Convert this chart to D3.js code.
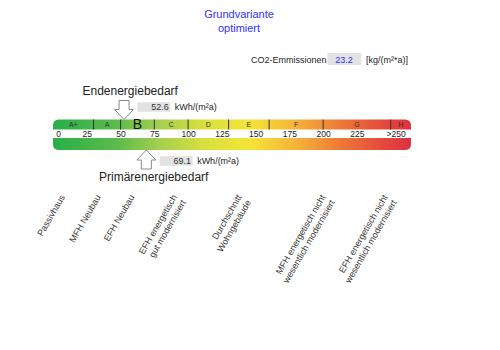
<!DOCTYPE html>
<html><head><meta charset="utf-8">
<script src="https://cdn.jsdelivr.net/npm/d3@7"></script>
<style>body{margin:0;background:#fff}text{font-family:"Liberation Sans",Arial,sans-serif}</style>
</head><body><svg id="c" width="500" height="350"></svg>
<script>
const titleLines = ["Grundvariante", "optimiert"];
const co2Value = 23.2;
const endEnergy = 52.6;
const primEnergy = 69.1;
const classNames = ["A+","A","B","C","D","E","F","G","H"];
const classBounds = [0,30,50,75,100,130,160,200,250,265];
const tickValues = [0,25,50,75,100,125,150,175,200,225,250];
const tickLabels = ["0","25","50","75","100","125","150","175","200","225",">250"];
const refNames = [["Passivhaus"],["MFH Neubau"],["EFH Neubau"],["EFH energetisch","gut modernisiert"],["Durchschnitt","Wohngebäude"],["MFH energetisch nicht","wesentlich modernisiert"],["EFH energetisch nicht","wesentlich modernisiert"]];
const refValues = [9, 35.5, 60.5, 92, 140, 202, 248];
const gradStops = [[0,"#27ae4a"],[0.18,"#5dbb4c"],[0.3,"#a6cf4f"],[0.42,"#d6e03f"],[0.55,"#f6e436"],[0.68,"#f6b23a"],[0.8,"#ee7a36"],[0.92,"#e44a3c"],[1,"#de3040"]];

const svg = d3.select("#c");
const x = d3.scaleLinear().domain([0,250]).range([53,390.7]);
const xMax = x(265), xMin = x(0);

const defs = svg.append("defs");
const g = defs.append("linearGradient").attr("id","grad").attr("gradientUnits","userSpaceOnUse")
  .attr("x1",xMin).attr("x2",xMax).attr("y1",0).attr("y2",0);
g.selectAll("stop").data(gradStops).join("stop").attr("offset",d=>d[0]).attr("stop-color",d=>d[1]);

// titles
svg.selectAll("text.title").data(titleLines).join("text").attr("class","title")
  .attr("x",239).attr("y",(d,i)=>18+i*14).attr("text-anchor","middle")
  .attr("font-size",11).attr("fill","#2f2fff").text(d=>d);

// CO2
svg.append("text").attr("x",251).attr("y",62.5).attr("font-size",9).attr("fill","#222").text("CO2-Emmissionen");
svg.append("rect").attr("x",327.5).attr("y",53).attr("width",33.5).attr("height",12).attr("fill","#e2e2e2");
svg.append("text").attr("x",344).attr("y",62.5).attr("text-anchor","middle").attr("font-size",9).attr("fill","#2f2fff").text(co2Value.toFixed(1));
svg.append("text").attr("x",366).attr("y",62.5).attr("font-size",9).attr("fill","#222").text("[kg/(m²*a)]");

// bars
const r = 6;
const yT0 = 119.5, yT1 = 129.5, yB0 = 138, yB1 = 150;
const topPath = `M${xMin},${yT1} V${yT0+r} Q${xMin},${yT0} ${xMin+r},${yT0} H${xMax-r} Q${xMax},${yT0} ${xMax},${yT0+r} V${yT1} Z`;
const botPath = `M${xMin},${yB0} H${xMax} V${yB1-r} Q${xMax},${yB1} ${xMax-r},${yB1} H${xMin+r} Q${xMin},${yB1} ${xMin},${yB1-r} Z`;
svg.append("path").attr("d",topPath).attr("fill","url(#grad)");
svg.append("path").attr("d",botPath).attr("fill","url(#grad)");

// dividers
svg.selectAll("line.div").data(classBounds.slice(1,-1)).join("line").attr("class","div")
  .attr("x1",d=>x(d)).attr("x2",d=>x(d)).attr("y1",yT0).attr("y2",yT1)
  .attr("stroke","#333").attr("stroke-width",1);

// class labels
const endClass = classBounds.findIndex((b,i)=>i>0 && endEnergy < b) - 1;
svg.selectAll("text.cls").data(classNames).join("text").attr("class","cls")
  .attr("x",(d,i)=>x((classBounds[i]+classBounds[i+1])/2))
  .attr("y",(d,i)=> i===endClass ? 128.8 : 127)
  .attr("text-anchor","middle")
  .attr("font-size",(d,i)=> i===endClass ? 14 : 7)
  .attr("fill",(d,i)=> i===endClass ? "#111" : "#333")
  .text(d=>d);

// axis
const axis = d3.axisBottom(x).tickValues(tickValues).tickSize(0).tickPadding(1.5)
  .tickFormat((d,i)=>tickLabels[i]);
const ax = svg.append("g").attr("transform",`translate(0,${yT1})`).call(axis);
ax.select(".domain").remove();
ax.selectAll("text").attr("font-size",8.5).attr("fill","#222").attr("font-family","Liberation Sans, Arial, sans-serif")
  .attr("dx",(d,i)=> i===0 ? 5 : (i===tickValues.length-1 ? 5 : 0));

// arrows
function arrowPath(cx, tipY, dir){
  const hw=9.5, sw=5, hh=10, sh=9;
  const pts = [[cx,tipY],[cx+hw,tipY-dir*hh],[cx+sw,tipY-dir*hh],[cx+sw,tipY-dir*(hh+sh)],
    [cx-sw,tipY-dir*(hh+sh)],[cx-sw,tipY-dir*hh],[cx-hw,tipY-dir*hh]];
  return d3.line()(pts)+"Z";
}
svg.append("path").attr("d",arrowPath(x(endEnergy),yT0,1)).attr("fill","#fff").attr("stroke","#888").attr("stroke-width",1);
svg.append("path").attr("d",arrowPath(x(primEnergy),yB1,-1)).attr("fill","#fff").attr("stroke","#888").attr("stroke-width",1);

// value boxes
function valueBox(v, by){
  const bx = x(v)+13.3;
  svg.append("rect").attr("x",bx).attr("y",by).attr("width",33).attr("height",9.5).attr("fill","#e2e2e2");
  svg.append("text").attr("x",bx+31.5).attr("y",by+8).attr("text-anchor","end").attr("font-size",9).attr("fill","#333").text(v.toFixed(1));
  svg.append("text").attr("x",bx+37.5).attr("y",by+8).attr("font-size",9).attr("fill","#222").text("kWh/(m²a)");
}
valueBox(endEnergy, 102.3);
valueBox(primEnergy, 156.2);

svg.append("text").attr("x",82.5).attr("y",95).attr("font-size",12).attr("fill","#222").text("Endenergiebedarf");
svg.append("text").attr("x",99).attr("y",181).attr("font-size",12).attr("fill","#222").text("Primärenergiebedarf");

// reference labels
const refs = svg.selectAll("g.ref").data(refNames).join("g").attr("class","ref")
  .attr("transform",(d,i)=>`translate(${x(refValues[i])},197) rotate(-60)`);
refs.selectAll("text").data(d=>d).join("text")
  .attr("x",0).attr("y",(d,i)=>i*10.5).attr("text-anchor","end")
  .attr("font-size",9).attr("fill","#333").text(d=>d);
</script></body></html>
